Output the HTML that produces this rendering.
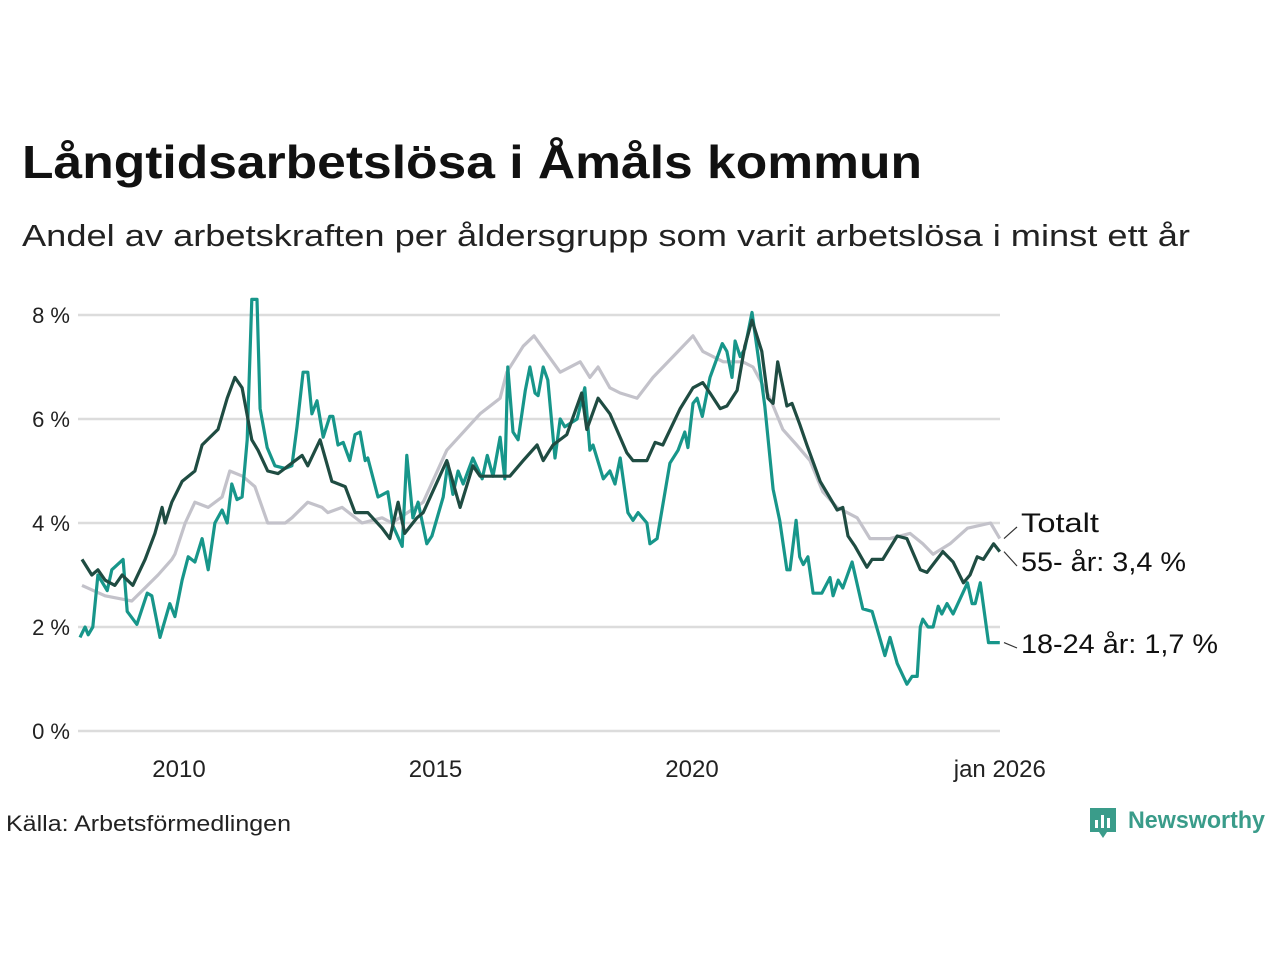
<!DOCTYPE html>
<html><head><meta charset="utf-8"><style>
body{margin:0;background:#fff;}
svg{display:block;font-family:"Liberation Sans","DejaVu Sans",sans-serif;}
</style></head><body>
<svg id="chart" width="1280" height="960" viewBox="0 0 1280 960" xmlns="http://www.w3.org/2000/svg">
<rect width="1280" height="960" fill="#fff"/>
<text x="22" y="178" font-size="46" font-weight="bold" fill="#111" textLength="900" lengthAdjust="spacingAndGlyphs">Långtidsarbetslösa i Åmåls kommun</text>
<text x="22" y="246" font-size="31" fill="#222" textLength="1168" lengthAdjust="spacingAndGlyphs">Andel av arbetskraften per åldersgrupp som varit arbetslösa i minst ett år</text>
<g id="grid"></g><g id="series"></g><g id="labels"></g>
<text x="6" y="831" font-size="22" fill="#222" textLength="285" lengthAdjust="spacingAndGlyphs">Källa: Arbetsförmedlingen</text>
<g>
<path d="M1090 808 h26 v24 h-9 l-4 6 l-4 -6 h-9 z" fill="#3a9c8a"/>
<rect x="1095" y="820" width="3" height="8" fill="#fff"/><rect x="1101" y="815" width="3" height="13" fill="#fff"/><rect x="1107" y="818" width="3" height="10" fill="#fff"/>
<text x="1128" y="828" font-size="24" font-weight="bold" fill="#3a9c8a" textLength="137" lengthAdjust="spacingAndGlyphs">Newsworthy</text>
</g>
</svg>
<script>
const BASE_YEAR = 2008;
const yTicks = [0, 2, 4, 6, 8];
const yTickLabels = ["0 %", "2 %", "4 %", "6 %", "8 %"];
const xTicks = [2010, 2015, 2020, 2026];
const xTickLabels = ["2010", "2015", "2020", "jan 2026"];
const totalT = [0.11,0.56,1.08,1.59,1.86,1.92,2.12,2.31,2.57,2.84,2.99,3.24,3.48,3.73,4.07,4.20,4.51,4.79,4.90,5.18,5.57,5.96,6.15,6.76,7.22,7.87,8.26,8.39,8.71,8.92,9.43,9.82,10.01,10.17,10.40,10.60,10.93,11.24,11.63,12.02,12.21,12.61,12.99,13.19,13.52,13.77,14.04,14.30,14.55,14.83,15.22,15.47,15.86,16.25,16.50,16.70,17.03,17.37,17.82,18.0];
const totalV = [2.8,2.6,2.5,3.0,3.3,3.4,4.0,4.4,4.3,4.5,5.0,4.9,4.7,4.0,4.0,4.1,4.4,4.3,4.2,4.3,4.0,4.1,4.0,4.4,5.4,6.1,6.4,6.9,7.4,7.6,6.9,7.1,6.8,7.0,6.6,6.5,6.4,6.8,7.2,7.6,7.3,7.1,7.1,7.0,6.4,5.8,5.5,5.2,4.6,4.3,4.1,3.7,3.7,3.8,3.6,3.4,3.6,3.9,4.0,3.7];
const olderT = [0.11,0.30,0.42,0.56,0.75,0.89,1.10,1.34,1.53,1.67,1.73,1.86,2.06,2.31,2.45,2.76,2.94,3.09,3.23,3.42,3.54,3.73,3.93,4.13,4.40,4.51,4.75,4.98,5.24,5.43,5.68,5.96,6.11,6.27,6.40,6.64,6.76,7.22,7.48,7.73,7.87,8.12,8.45,8.71,8.98,9.10,9.29,9.56,9.85,9.95,10.17,10.40,10.73,10.85,11.12,11.28,11.43,11.77,12.02,12.21,12.35,12.55,12.68,12.88,13.03,13.17,13.36,13.48,13.58,13.67,13.85,13.95,14.10,14.24,14.50,14.83,14.94,15.04,15.18,15.41,15.51,15.72,16.00,16.19,16.45,16.58,16.89,17.09,17.29,17.42,17.56,17.68,17.88,18.0];
const olderV = [3.3,3.0,3.1,2.9,2.8,3.0,2.8,3.3,3.8,4.3,4.0,4.4,4.8,5.0,5.5,5.8,6.4,6.8,6.6,5.6,5.4,5.0,4.95,5.1,5.3,5.1,5.6,4.8,4.7,4.2,4.2,3.9,3.7,4.4,3.8,4.1,4.2,5.2,4.3,5.1,4.9,4.9,4.9,5.2,5.5,5.2,5.5,5.7,6.5,5.8,6.4,6.1,5.35,5.2,5.2,5.55,5.5,6.2,6.6,6.7,6.5,6.2,6.25,6.55,7.4,7.9,7.3,6.4,6.3,7.1,6.25,6.3,5.9,5.5,4.8,4.25,4.3,3.75,3.55,3.15,3.3,3.3,3.75,3.7,3.1,3.05,3.45,3.25,2.85,3.0,3.35,3.3,3.6,3.45];
const youthT = [0.07,0.17,0.23,0.32,0.42,0.60,0.69,0.91,0.99,1.18,1.38,1.47,1.63,1.82,1.92,2.06,2.18,2.31,2.45,2.57,2.70,2.84,2.94,3.03,3.13,3.23,3.33,3.42,3.52,3.58,3.72,3.87,4.07,4.20,4.30,4.42,4.51,4.59,4.69,4.81,4.94,5.00,5.10,5.20,5.33,5.43,5.53,5.63,5.68,5.88,6.07,6.17,6.35,6.44,6.56,6.66,6.83,6.93,7.15,7.24,7.34,7.44,7.54,7.73,7.91,8.01,8.12,8.26,8.35,8.41,8.51,8.61,8.75,8.84,8.94,9.00,9.10,9.19,9.33,9.43,9.52,9.76,9.91,10.01,10.07,10.27,10.40,10.50,10.60,10.75,10.85,10.95,11.12,11.18,11.32,11.57,11.73,11.86,11.92,12.02,12.10,12.20,12.35,12.59,12.68,12.78,12.84,12.94,13.03,13.17,13.29,13.42,13.58,13.71,13.85,13.91,14.03,14.10,14.17,14.26,14.36,14.53,14.69,14.75,14.85,14.94,15.12,15.33,15.51,15.76,15.86,16.00,16.19,16.29,16.39,16.45,16.50,16.60,16.70,16.80,16.87,16.97,17.09,17.37,17.46,17.52,17.62,17.78,18.0];
const youthV = [1.8,2.0,1.85,2.0,3.0,2.7,3.1,3.3,2.3,2.05,2.65,2.6,1.8,2.45,2.2,2.9,3.35,3.25,3.7,3.1,4.0,4.25,4.0,4.75,4.45,4.5,5.6,8.3,8.3,6.2,5.45,5.1,5.05,5.1,5.85,6.9,6.9,6.1,6.35,5.65,6.05,6.05,5.5,5.55,5.2,5.7,5.75,5.2,5.25,4.5,4.6,3.95,3.55,5.3,4.1,4.4,3.6,3.75,4.5,5.15,4.55,5.0,4.75,5.25,4.85,5.3,4.9,5.65,4.85,7.0,5.75,5.6,6.55,7.0,6.5,6.45,7.0,6.75,5.25,6.0,5.85,6.0,6.6,5.4,5.5,4.85,5.0,4.75,5.25,4.2,4.05,4.2,4.0,3.6,3.7,5.15,5.4,5.75,5.45,6.3,6.4,6.05,6.8,7.45,7.3,6.8,7.5,7.2,7.35,8.05,7.2,6.25,4.65,4.05,3.1,3.1,4.05,3.35,3.2,3.35,2.65,2.65,2.95,2.6,2.9,2.75,3.25,2.35,2.3,1.45,1.8,1.3,0.9,1.05,1.05,2.0,2.15,2.0,2.0,2.4,2.25,2.45,2.25,2.85,2.45,2.45,2.85,1.7,1.7];

const NS = "http://www.w3.org/2000/svg";
const X0 = 76.4, PX_PER_YEAR = 51.3, Y0 = 731, PX_PER_PCT = 52;
function xScale(year){ return X0 + (year - BASE_YEAR) * PX_PER_YEAR; }
function yScale(v){ return Y0 - v * PX_PER_PCT; }
function mk(tag, attrs, parent){ const e = document.createElementNS(NS, tag); for (const k in attrs) e.setAttribute(k, attrs[k]); parent.appendChild(e); return e; }

const grid = document.getElementById("grid");
yTicks.forEach((t, i) => {
  const l = mk("line", {x1: 78, x2: 1000, y1: yScale(t), y2: yScale(t), stroke: "#dcdcdc", "stroke-width": 2.5}, grid);
  
  
  const tx = mk("text", {x: 70, y: yScale(t) + 8, "font-size": 22, "text-anchor": "end", fill: "#222"}, grid);
  tx.textContent = yTickLabels[i];
  
  
});
xTicks.forEach((t, i) => {
  const tx = mk("text", {x: xScale(t), y: 777, "font-size": 24, "text-anchor": "middle", fill: "#222"}, grid);
  tx.textContent = xTickLabels[i];
  
  
});

const seriesG = document.getElementById("series");
function drawLine(ts, vs, color, name){
  const d = ts.map((t, i) => (i ? "L" : "M") + xScale(BASE_YEAR + t).toFixed(1) + " " + yScale(vs[i]).toFixed(1)).join(" ");
  const p = mk("path", {d: d, fill: "none", stroke: color, "stroke-width": 3.2, "stroke-linejoin": "round"}, seriesG);
  
  
}
drawLine(totalT, totalV, "#c3c2ca", "line-totalt");
drawLine(youthT, youthV, "#17968a", "line-18-24");
drawLine(olderT, olderV, "#1f4c42", "line-55-plus");

const labels = document.getElementById("labels");
const lastTotal = totalV[totalV.length-1], lastOlder = olderV[olderV.length-1], lastYouth = youthV[youthV.length-1];
const ann = [
  {txt: "Totalt", v: lastTotal, ly: 522, w: 78, name: "label-totalt"},
  {txt: "55- år: 3,4 %", v: lastOlder, ly: 561, w: 165, name: "label-55-plus"},
  {txt: "18-24 år: 1,7 %", v: lastYouth, ly: 643, w: 197, name: "label-18-24"}
];
ann.forEach(a => {
  const c = mk("line", {x1: 1004, y1: yScale(a.v), x2: 1017, y2: a.ly + 5, stroke: "#333", "stroke-width": 1.2}, labels);
  
  
  const t = mk("text", {x: 1021, y: a.ly + 10, "font-size": 27, fill: "#111", textLength: a.w, lengthAdjust: "spacingAndGlyphs"}, labels);
  t.textContent = a.txt;
  
  
});
</script>
</body></html>
